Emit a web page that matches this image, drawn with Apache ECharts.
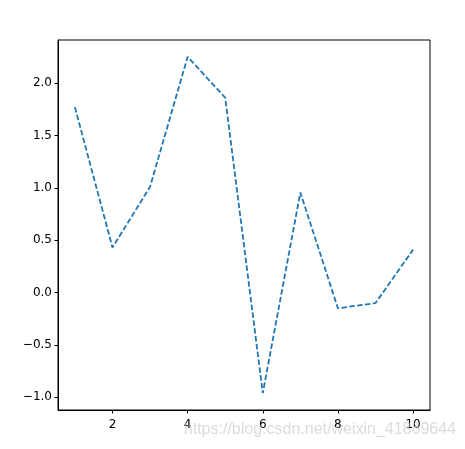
<!DOCTYPE html>
<html>
<head>
<meta charset="utf-8">
<script src="https://cdn.jsdelivr.net/npm/echarts@6/dist/echarts.min.js"></script>
<style>html,body{margin:0;padding:0;background:#fff}#c{width:465px;height:449px}</style>
</head>
<body>
<div id="c"></div>
<script>
const xValues = [1, 2, 3, 4, 5, 6, 7, 8, 9, 10];
const yValues = [1.77, 0.43, 1.01, 2.25, 1.86, -0.96, 0.955, -0.15, -0.10, 0.41];
const xTicks = [2, 4, 6, 8, 10];
const yTicks = [-1.0, -0.5, 0.0, 0.5, 1.0, 1.5, 2.0];
const watermark = 'https://blog.csdn.net/weixin_41869644';

const yMin = Math.min(...yValues), yMax = Math.max(...yValues);
const yPad = (yMax - yMin) * 0.05;
const xPad = (Math.max(...xValues) - Math.min(...xValues)) * 0.05;

const chart = echarts.init(document.getElementById('c'), null, {renderer: 'canvas'});
const font = 'DejaVu Sans';
chart.setOption({
  animation: false,
  backgroundColor: '#fff',
  grid: {left: 58, top: 40, right: 35, bottom: 39, show: true, borderColor: '#000', borderWidth: 1, backgroundColor: 'transparent'},
  xAxis: {
    type: 'value',
    min: Math.min(...xValues) - xPad,
    max: Math.max(...xValues) + xPad,
    splitLine: {show: false},
    axisLine: {show: true, onZero: false, lineStyle: {color: '#000', width: 1}},
    axisTick: {show: true, length: 3.5, customValues: xTicks, lineStyle: {color: '#000'}},
    axisLabel: {customValues: xTicks, margin: 9, color: '#000', fontFamily: font, fontSize: 12, formatter: v => String(v)}
  },
  yAxis: {
    type: 'value',
    min: yMin - yPad,
    max: yMax + yPad,
    splitLine: {show: false},
    axisLine: {show: true, onZero: false, lineStyle: {color: '#000', width: 1}},
    axisTick: {show: true, length: 3.5, customValues: yTicks, lineStyle: {color: '#000'}},
    axisLabel: {customValues: yTicks, margin: 6, color: '#000', fontFamily: font, fontSize: 12,
      formatter: v => v.toFixed(1).replace('-', '\u2212')}
  },
  series: [{
    type: 'line',
    data: xValues.map((x, i) => [x, yValues[i]]),
    showSymbol: false,
    lineStyle: {color: '#1f77b4', width: 1.8, type: [5.5, 2.4]}
  }],
  graphic: [{
    type: 'text',
    right: 9,
    top: 422,
    z: 100,
    style: {text: watermark, fill: 'rgba(195,195,195,0.6)', font: '16px "Liberation Sans", Arial, sans-serif'}
  }]
});
</script>
</body>
</html>
